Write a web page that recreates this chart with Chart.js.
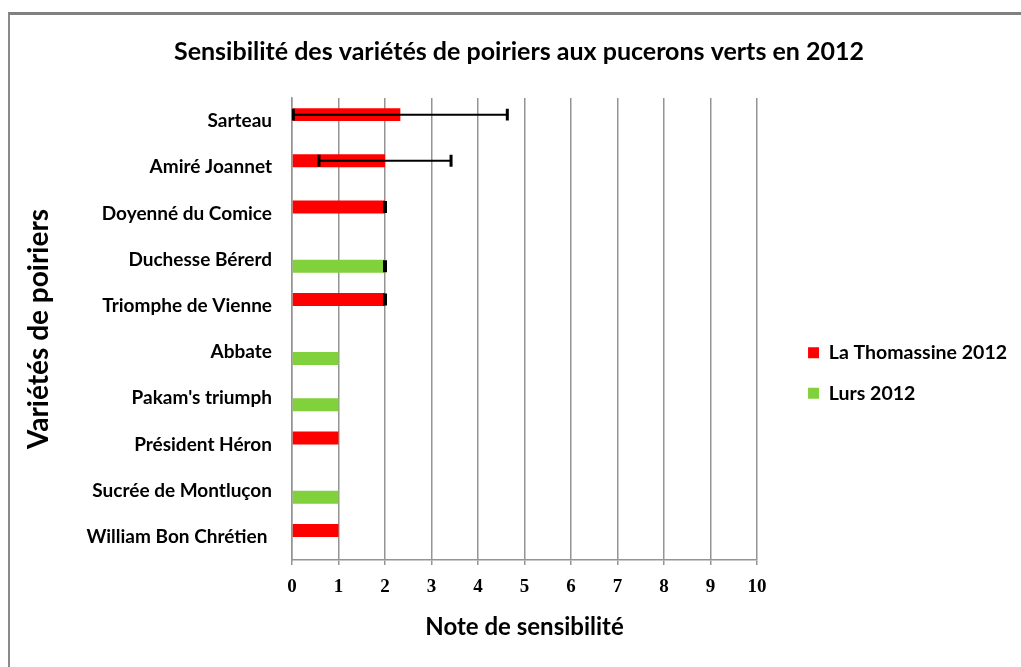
<!DOCTYPE html>
<html>
<head>
<meta charset="utf-8">
<script src="https://cdn.jsdelivr.net/npm/chart.js@4"></script>
<style>
    html, body { margin: 0; padding: 0; background: #fff; }
    #wrap { position: relative; width: 1021px; height: 667px; overflow: hidden; }
    #frame { position: absolute; left: 8px; top: 12px; width: 1100px; height: 700px;
             border-left: 2px solid #8a8a8a; border-top: 3px solid #808080; }
    canvas { position: absolute; left: 0; top: 0; }
</style>
</head>
<body>
<div id="wrap">
    <div id="frame"></div>
    <canvas id="sensibilite-chart" width="1021" height="667"></canvas>
</div>
<script>
// varieties, top to bottom
const varietes = [
    "Sarteau",
    "Amiré Joannet",
    "Doyenné du Comice",
    "Duchesse Bérerd",
    "Triomphe de Vienne",
    "Abbate",
    "Pakam's triumph",
    "Président Héron",
    "Sucrée de Montluçon",
    "William Bon Chrétien "
];

const note_thomassine = [2.33, 2.0, 2.0, null, 2.0, null, null, 1, null, 1];
const erreur_thomassine = [2.3, 1.42, 0, null, 0, null, null, null, null, null];

const note_lurs = [null, null, null, 2.0, null, 1, 1, null, 1, null];
const erreur_lurs = [null, null, null, 0, null, null, null, null, null, null];

const note_min = 0;
const note_max = 10;

const GRID = "#949494";

/**
 * Draw error bars (whisker + caps) on top of the bars.
 */
const error_bars_plugin = {
    id: "errorBars",
    afterDatasetsDraw(chart) {
        const ctx = chart.ctx;
        const x_scale = chart.scales.x;
        chart.data.datasets.forEach((ds, di) => {
            const meta = chart.getDatasetMeta(di);
            meta.data.forEach((bar, i) => {
                const v = ds.data[i];
                const e = ds.errors[i];
                if (v === null || e === null) {
                    return;
                }
                const {y, height} = bar.getProps(["y", "height"], true);
                const x_lo = x_scale.getPixelForValue(v - e);
                const x_hi = x_scale.getPixelForValue(v + e);
                const half = height / 2 - 0.5;
                ctx.save();
                ctx.strokeStyle = "#000";
                ctx.lineWidth = 2;
                ctx.beginPath();
                ctx.moveTo(x_lo, y);
                ctx.lineTo(x_hi, y);
                ctx.stroke();
                ctx.lineWidth = e === 0 ? 4 : 3;
                ctx.beginPath();
                ctx.moveTo(x_lo, y - half);
                ctx.lineTo(x_lo, y + half);
                ctx.moveTo(x_hi, y - half);
                ctx.lineTo(x_hi, y + half);
                ctx.stroke();
                ctx.restore();
            });
        });
    }
};

const chart_el = document.getElementById("sensibilite-chart");

new Chart(chart_el, {
    type: "bar",
    data: {
        labels: varietes,
        datasets: [{
            label: "La Thomassine 2012",
            data: note_thomassine,
            errors: erreur_thomassine,
            backgroundColor: "#ff0000",
            borderWidth: 0
        }, {
            label: "Lurs 2012",
            data: note_lurs,
            errors: erreur_lurs,
            backgroundColor: "#80d13b",
            borderWidth: 0
        }]
    },
    plugins: [error_bars_plugin],
    options: {
        indexAxis: "y",
        responsive: false,
        animation: false,
        datasets: {
            bar: {
                categoryPercentage: 0.56,
                barPercentage: 1.0
            }
        },
        layout: {
            padding: {left: 21, right: 4, top: 0, bottom: 25}
        },
        scales: {
            x: {
                min: note_min,
                max: note_max,
                ticks: {
                    stepSize: 1,
                    padding: 11,
                    color: "#000",
                    font: {family: "'Liberation Serif'", size: 19, weight: "bold"}
                },
                grid: {color: GRID, lineWidth: 1.5, tickLength: 5},
                border: {color: GRID, width: 1.5},
                title: {
                    display: true,
                    text: "Note de sensibilité",
                    color: "#000",
                    padding: {top: 16, bottom: 0},
                    font: {family: "Lato", size: 24, weight: "bold"}
                },
                afterFit(scale) {
                    scale.height = 82;
                }
            },
            y: {
                ticks: {
                    padding: 20,
                    color: "#000",
                    font: {family: "Lato", size: 19, weight: "bold"}
                },
                grid: {display: false, drawTicks: false},
                border: {color: GRID, width: 1.5},
                title: {
                    display: true,
                    text: "Variétés de poiriers",
                    color: "#000",
                    padding: {top: 1, bottom: 0},
                    font: {family: "Lato", size: 28, weight: "bold"}
                },
                afterFit(scale) {
                    scale.width = 292 - 21;
                }
            },
            spacer: {
                type: "linear",
                position: "right",
                display: true,
                grid: {display: false, drawTicks: false},
                border: {display: false},
                ticks: {display: false},
                afterFit(scale) {
                    scale.width = 30;
                }
            }
        },
        plugins: {
            title: {
                display: true,
                text: "Sensibilité des variétés de poiriers aux pucerons verts en 2012",
                color: "#000",
                padding: {top: 37, bottom: 31},
                font: {family: "Lato", size: 25, weight: "bold"}
            },
            legend: {
                position: "right",
                maxWidth: 234,
                title: {
                    display: true,
                    text: "",
                    padding: {top: 92, bottom: 0},
                    font: {size: 10}
                },
                labels: {
                    boxWidth: 11,
                    boxHeight: 11,
                    padding: 21,
                    color: "#000",
                    font: {family: "Lato", size: 19.5, weight: "bold"}
                }
            },
            tooltip: {enabled: false}
        }
    }
});
</script>
</body>
</html>
